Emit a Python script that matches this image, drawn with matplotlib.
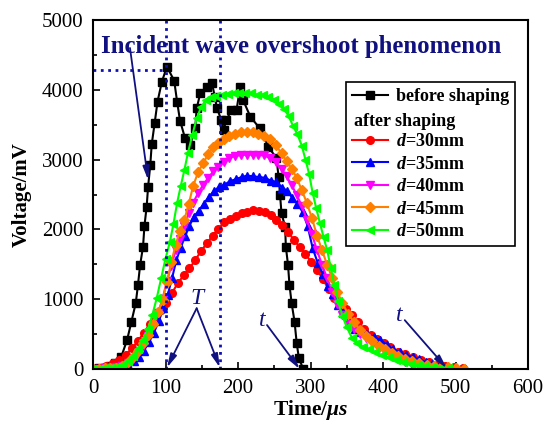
import numpy as np
import matplotlib
matplotlib.use('Agg')
import matplotlib.pyplot as plt
from matplotlib.lines import Line2D
from matplotlib.ticker import MultipleLocator

plt.rcParams['font.family'] = ['Liberation Serif', 'DejaVu Serif']
plt.rcParams['mathtext.fontset'] = 'custom'
plt.rcParams['mathtext.it'] = 'Liberation Serif:italic:bold'
plt.rcParams['mathtext.rm'] = 'Liberation Serif:bold'

# 整形前 (入射波)
t_before = [0, 8, 16, 24, 31, 39, 47, 53, 59, 62, 65, 69, 71, 74, 76, 79, 81, 85, 89, 95,
            102, 112, 116, 120, 127, 134, 141, 143, 148, 157, 164, 168, 171, 177, 180,
            184, 191, 198, 203, 207, 217, 230, 242, 253, 256, 258, 260, 265, 266, 269,
            271, 274, 278, 281, 284, 290]
v_before = [0, 10, 20, 40, 90, 176, 415, 678, 945, 1203, 1490, 1752, 2053, 2325, 2612,
            2923, 3219, 3520, 3830, 4116, 4331, 4130, 3830, 3560, 3305, 3209, 3450, 3735,
            3950, 4044, 4100, 3901, 3735, 3567, 3424, 3567, 3711, 3711, 4044, 3854, 3615,
            3448, 3185, 3018, 2755, 2493, 2230, 2039, 1752, 1490, 1203, 941, 678, 368, 153, 0]

# d=30mm
t_30 = [0, 9, 18, 27, 36, 45, 54, 62, 70, 78, 86, 94, 101, 109, 117, 125, 133, 141, 149, 157,
        165, 173, 181, 189, 197, 205, 213, 221, 229, 237, 245, 253, 261, 269, 277, 285, 293,
        301, 309, 317, 325, 333, 341, 349, 357, 365, 374, 383, 392, 401, 410, 420, 430, 441,
        452, 463, 474, 486, 498, 510]
v_30 = [0, 20, 50, 80, 130, 200, 300, 400, 520, 640, 760, 850, 940, 1090, 1230, 1340, 1440,
        1560, 1690, 1800, 1910, 2010, 2100, 2150, 2195, 2230, 2255, 2275, 2270, 2245, 2200,
        2130, 2060, 1967, 1850, 1750, 1650, 1530, 1420, 1290, 1140, 1020, 940, 860, 770, 680,
        570, 490, 430, 370, 310, 250, 210, 170, 135, 95, 60, 45, 35, 10]

# d=35mm
t_35 = [0, 8, 16, 24, 32, 40, 48, 56, 63, 70, 77, 84, 91, 97, 103, 109, 115, 121, 127, 133,
        139, 146, 153, 160, 167, 174, 181, 189, 197, 205, 213, 221, 229, 237, 245, 253, 261,
        268, 275, 282, 289, 296, 303, 310, 317, 324, 331, 338, 345, 353, 361, 369, 378, 387,
        396, 405, 414, 423, 432, 441, 450, 459, 468, 477, 486]
v_35 = [0, 5, 10, 15, 20, 30, 60, 110, 170, 260, 380, 520, 690, 870, 1060, 1300, 1560, 1740,
        1900, 2050, 2180, 2270, 2370, 2470, 2550, 2610, 2640, 2690, 2720, 2750, 2770, 2760,
        2750, 2740, 2700, 2680, 2600, 2550, 2450, 2370, 2250, 2050, 1730, 1520, 1360, 1190,
        1070, 910, 800, 670, 580, 530, 500, 460, 420, 350, 280, 240, 200, 170, 140, 100, 70,
        40, 20]

# d=40mm
t_40 = [0, 8, 16, 24, 32, 40, 48, 55, 62, 69, 76, 83, 90, 96, 102, 108, 114, 120, 126, 132,
        138, 145, 152, 159, 166, 173, 180, 188, 196, 204, 212, 220, 228, 236, 244, 252, 260,
        267, 274, 281, 288, 295, 302, 309, 316, 323, 330, 337, 344, 352, 360, 368, 376, 385,
        394, 403, 412, 421, 430, 440, 450, 460]
v_40 = [0, 5, 10, 15, 25, 40, 80, 150, 230, 330, 470, 620, 800, 1010, 1260, 1480, 1700, 1860,
        2050, 2230, 2380, 2520, 2640, 2740, 2830, 2900, 2960, 3030, 3050, 3065, 3070, 3070,
        3065, 3060, 3020, 2960, 2860, 2760, 2640, 2490, 2340, 2140, 1930, 1700, 1490, 1300,
        1110, 930, 780, 650, 570, 500, 440, 370, 300, 240, 190, 140, 100, 60, 30, 10]

# d=45mm
t_45 = [0, 8, 16, 24, 32, 40, 48, 55, 62, 69, 76, 83, 90, 96, 102, 108, 114, 120, 126, 132,
        138, 145, 152, 159, 166, 173, 180, 188, 196, 204, 212, 220, 228, 236, 244, 252, 260,
        267, 274, 281, 288, 295, 302, 309, 316, 323, 330, 337, 344, 352, 360, 368, 376, 385,
        394, 403, 412, 421, 430, 440, 450, 460, 470, 480, 490, 500, 512]
v_45 = [0, 5, 8, 10, 20, 45, 100, 170, 260, 370, 490, 640, 820, 990, 1240, 1530, 1780, 1980,
        2140, 2360, 2620, 2820, 2950, 3080, 3180, 3240, 3300, 3340, 3370, 3395, 3400, 3390,
        3370, 3340, 3290, 3210, 3090, 2980, 2870, 2740, 2560, 2380, 2160, 1910, 1700, 1490,
        1300, 1110, 940, 790, 670, 560, 470, 400, 330, 280, 230, 190, 150, 120, 90, 60, 45,
        35, 25, 15, 5]

# d=50mm
t_50 = [0, 8, 16, 24, 32, 40, 48, 55, 62, 69, 76, 82, 88, 94, 100, 106, 111, 116, 121, 126,
        131, 137, 143, 149, 156, 163, 170, 178, 186, 194, 202, 210, 218, 226, 234, 242, 250,
        257, 264, 270, 276, 282, 288, 293, 298, 303, 308, 313, 318, 323, 328, 333, 338, 344,
        350, 357, 364, 372, 380, 389, 398, 408, 418, 428, 438, 448, 458, 468, 478, 490]
v_50 = [0, 5, 10, 20, 30, 60, 120, 180, 290, 420, 580, 780, 1020, 1300, 1580, 1820, 2080,
        2380, 2620, 2850, 3100, 3350, 3590, 3750, 3860, 3890, 3910, 3925, 3940, 3950, 3950,
        3950, 3950, 3930, 3930, 3900, 3860, 3800, 3720, 3620, 3480, 3360, 3200, 3000, 2800,
        2520, 2300, 2090, 1890, 1700, 1450, 1200, 980, 760, 600, 450, 370, 320, 280, 240, 200,
        170, 130, 100, 75, 55, 40, 30, 20, 10]

series = [
    (t_30, v_30, '#ff0000', 'o', '$d$=30mm'),
    (t_35, v_35, '#0000ff', '^', '$d$=35mm'),
    (t_40, v_40, '#ff00ff', 'v', '$d$=40mm'),
    (t_45, v_45, '#ff8000', 'D', '$d$=45mm'),
    (t_50, v_50, '#00ff00', '<', '$d$=50mm'),
]

navy = '#101080'
dot_c = '#1010b0'

fig = plt.figure(figsize=(5.45, 4.25), dpi=100)
ax = fig.add_axes([93 / 545, 1 - 369 / 425, 435 / 545, 349 / 425])

h_before, = ax.plot(t_before, v_before, color='black', marker='s', ms=5.5, lw=1.5,
                    label='before shaping')
handles = [h_before, Line2D([], [], color='none', label=' ')]
for t, v, c, m, lab in series:
    h, = ax.plot(t, v, color=c, marker=m, ms=5.5, lw=1.5, label=lab)
    handles.append(h)

# 虚线标记
ax.plot([101, 101], [0, 5000], color=dot_c, ls=':', lw=2)
ax.plot([175, 175], [0, 5000], color=dot_c, ls=':', lw=2)
ax.plot([0, 101], [4290, 4290], color=dot_c, ls=':', lw=2)

ax.text(11, 4627, 'Incident wave overshoot phenomenon', color=navy, fontsize=17.8,
        fontweight='bold', ha='left', va='center')
aprops = dict(arrowstyle='-|>,head_length=0.8,head_width=0.2', color=navy, lw=1.3,
              shrinkA=0, shrinkB=0)
ax.annotate('', xy=(76, 2708), xytext=(51, 4599), arrowprops=aprops)
ax.text(143, 1010, 'T', color=navy, fontsize=17, fontstyle='italic', ha='center', va='center')
ax.annotate('', xy=(102, 20), xytext=(143, 870), arrowprops=aprops)
ax.annotate('', xy=(175, 20), xytext=(143, 870), arrowprops=aprops)
ax.text(233, 690, 't', color=navy, fontsize=17, fontstyle='italic', ha='center', va='center')
ax.annotate('', xy=(285, 0), xytext=(240, 630), arrowprops=aprops)
ax.text(423, 760, 't', color=navy, fontsize=17, fontstyle='italic', ha='center', va='center')
ax.annotate('', xy=(488, 10), xytext=(430, 700), arrowprops=aprops)

ax.set_xlim(0, 600)
ax.set_ylim(0, 5000)
ax.xaxis.set_major_locator(MultipleLocator(100))
ax.xaxis.set_minor_locator(MultipleLocator(50))
ax.yaxis.set_major_locator(MultipleLocator(1000))
ax.yaxis.set_minor_locator(MultipleLocator(500))
ax.tick_params(which='both', direction='in', top=False, right=False, labelsize=15, width=1.2)
ax.tick_params(which='major', length=5, pad=7)
ax.tick_params(which='minor', length=3)
for s in ax.spines.values():
    s.set_linewidth(1.5)

ax.set_xlabel('Time/$\\mu s$', fontsize=15.5, fontweight='bold', labelpad=0)
ax.set_ylabel('Voltage/mV', fontsize=15, fontweight='bold', labelpad=7)

leg = ax.legend(handles=handles, loc='upper right', bbox_to_anchor=(0.97, 0.822),
                prop={'weight': 'bold', 'size': 13}, frameon=True, fancybox=False,
                edgecolor='black', framealpha=1, labelspacing=0.3, handlelength=2.0,
                handletextpad=0.4, borderpad=0.35, borderaxespad=0)
leg.get_frame().set_linewidth(1.2)
leg.set_zorder(5)
ax.text(0.6, 0.71, 'after shaping', transform=ax.transAxes, fontsize=13,
        fontweight='bold', ha='left', va='center', zorder=10)

fig.savefig('out.png', dpi=100)
